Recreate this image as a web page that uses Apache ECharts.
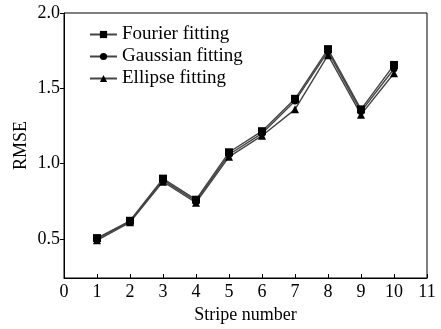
<!DOCTYPE html>
<html><head><meta charset="utf-8">
<script src="https://cdn.jsdelivr.net/npm/echarts@6/dist/echarts.min.js"></script>
<style>html,body{margin:0;padding:0;background:#fff}#c{width:441px;height:329px}</style>
</head><body><div id="c"></div>
<script>
var stripes = [1,2,3,4,5,6,7,8,9,10];
var fourier  = [0.505, 0.62, 0.90, 0.76, 1.075, 1.215, 1.43, 1.76, 1.36, 1.655];
var gaussian = [0.50, 0.615, 0.89, 0.75, 1.06, 1.20, 1.415, 1.745, 1.345, 1.63];
var ellipse  = [0.49, 0.61, 0.88, 0.74, 1.045, 1.185, 1.36, 1.72, 1.325, 1.60];
var yTicks = [0.5, 1.0, 1.5, 2.0];

function pairs(v){ return stripes.map(function(x,i){ return [x, v[i]]; }); }
var font = 'Liberation Serif';
var chart = echarts.init(document.getElementById('c'), null, {renderer:'canvas'});
function ser(name, data, sym, size){
  return {name:name, type:'line', data:pairs(data), symbol:sym, symbolSize:size,
    lineStyle:{color:'#444', width:1.4}, itemStyle:{color:'#000'}, animation:false};
}
chart.setOption({
  animation:false,
  grid:{left:64, right:14, top:13, bottom:51, show:true, borderColor:'#000', borderWidth:1},
  legend:{left:89, top:25, padding:0, orient:'vertical', itemGap:3, itemWidth:27, itemHeight:9,
    textStyle:{fontFamily:font, fontSize:19, color:'#000'},
    data:['Fourier fitting','Gaussian fitting','Ellipse fitting']},
  xAxis:{type:'value', min:0, max:11, interval:1, name:'Stripe number', nameLocation:'middle', nameGap:28,
    nameMoveOverlap:false,
    nameTextStyle:{fontFamily:font, fontSize:18, color:'#000'},
    axisLine:{lineStyle:{color:'#000'}}, axisTick:{inside:true, length:4, lineStyle:{color:'#000'}},
    splitLine:{show:false},
    axisLabel:{fontFamily:font, fontSize:18, color:'#000', margin:5}},
  yAxis:{type:'value', min:0.24, max:2.0, name:'RMSE', nameLocation:'middle', nameGap:34,
    nameMoveOverlap:false,
    nameTextStyle:{fontFamily:font, fontSize:18, color:'#000'},
    axisLine:{show:true, lineStyle:{color:'#000'}},
    axisTick:{show:true, length:4, lineStyle:{color:'#000'}, customValues:yTicks},
    splitLine:{show:false},
    axisLabel:{fontFamily:font, fontSize:18, color:'#000', margin:4, customValues:yTicks,
      formatter:function(v){return v.toFixed(1);}}},
  series:[
    ser('Fourier fitting', fourier, 'rect', 8),
    ser('Gaussian fitting', gaussian, 'circle', 7),
    ser('Ellipse fitting', ellipse, 'triangle', 8)
  ]
});
</script></body></html>
